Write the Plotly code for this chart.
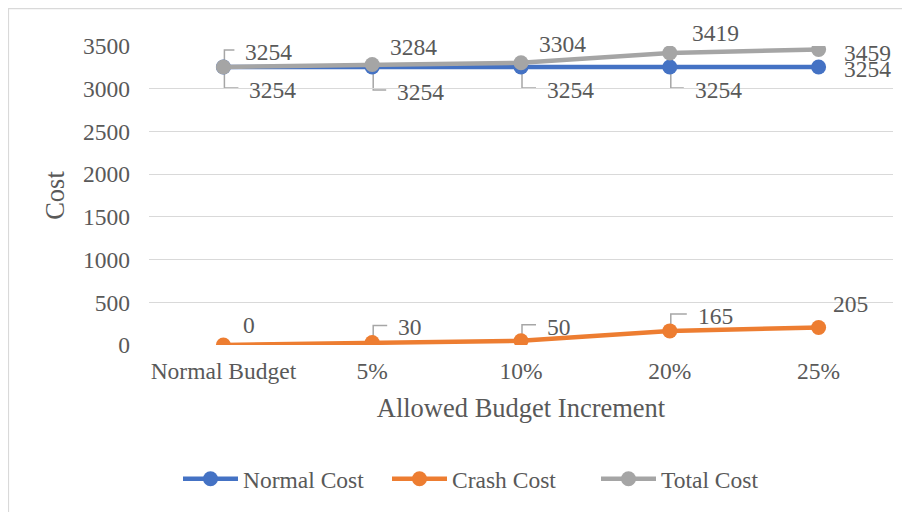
import plotly.graph_objects as go

# ---- data ----
categories = ["Normal Budget", "5%", "10%", "20%", "25%"]
normal_cost = [3254, 3254, 3254, 3254, 3254]
crash_cost = [0, 30, 50, 165, 205]
total_cost = [3254, 3284, 3304, 3419, 3459]
y_ticks = [0, 500, 1000, 1500, 2000, 2500, 3000, 3500]

# ---- styling / label placement (screen px, dy positive = down) ----
FONT = "Liberation Serif, Times New Roman, serif"
TXT = "#595959"
GRID = "#D9D9D9"
LEAD = "#A6A6A6"
colors = {"Normal Cost": "#4472C4", "Crash Cost": "#ED7D31", "Total Cost": "#A5A5A5"}

normal_lab = [(24, 23, True), (23, 25, True), (24, 23, True), (23, 23, True), (23, 2, False)]
crash_lab = [(18, -20, False), (24, -15, True), (24, -14, True), (26, -15, True), (12, -23, False)]
total_lab = [(20, -15, True), (16, -17, False), (16, -19, False), (20, -20, True), (23, 3, False)]

# page body has an 8px margin, so the figure itself is 902x504
W, H = 902, 504
ML, MT = 141, 38
PW, PH = 744, 300
MR, MB = W - ML - PW, H - MT - PH

fig = go.Figure()
for name, vals in [("Normal Cost", normal_cost), ("Crash Cost", crash_cost), ("Total Cost", total_cost)]:
    fig.add_trace(go.Scatter(
        x=categories, y=vals, name=name, mode="lines+markers",
        line=dict(color=colors[name], width=4.5),
        marker=dict(color=colors[name], size=15),
    ))

annotations = []
shapes = []
for vals, labs in [(normal_cost, normal_lab), (crash_cost, crash_lab), (total_cost, total_lab)]:
    for c, v, (dx, dy, lead) in zip(categories, vals, labs):
        annotations.append(dict(
            x=c, y=v, xref="x", yref="y", text=str(v), showarrow=False,
            xanchor="left", yanchor="middle", xshift=dx, yshift=-dy,
            font=dict(family=FONT, size=23.5, color=TXT),
        ))
        if lead:
            ey = dy - 2
            hx = dx - 9
            shapes.append(dict(
                type="path", xref="x", yref="y", xsizemode="pixel", ysizemode="pixel",
                xanchor=c, yanchor=v, layer="below",
                path=f"M 1,0 L 1,{-ey} L {hx},{-ey}",
                line=dict(color=LEAD, width=1.5),
            ))

# outer chart border (left/top visible, right/bottom run off the page)
shapes.append(dict(
    type="rect", xref="paper", yref="paper", layer="below",
    x0=(0.5 - ML) / PW, x1=(W + 10 - ML) / PW,
    y0=(MT + PH - (H + 10)) / PH, y1=(MT + PH - 0.5) / PH,
    line=dict(color=GRID, width=1.2), fillcolor="rgba(0,0,0,0)",
))

fig.update_layout(
    width=W, height=H,
    margin=dict(l=ML, r=MR, t=MT, b=MB),
    paper_bgcolor="white", plot_bgcolor="white",
    font=dict(family=FONT, color=TXT, size=23.5),
    showlegend=True,
    legend=dict(
        orientation="h", x=(170 - ML) / PW, xanchor="left",
        y=(MT + PH - 471) / PH, yanchor="middle",
        font=dict(family=FONT, size=23.5, color=TXT),
        itemwidth=55, entrywidth=139, entrywidthmode="pixels",
        bgcolor="rgba(0,0,0,0)",
    ),
    annotations=annotations,
    shapes=shapes,
    xaxis=dict(
        type="category", range=[-0.5, 4.5], showgrid=False, showline=False,
        zeroline=False, ticks="", ticklabelstandoff=9,
        tickfont=dict(family=FONT, size=23.5, color=TXT),
        title=dict(text="Allowed Budget Increment", standoff=15,
                   font=dict(family=FONT, size=26.5, color=TXT)),
    ),
    yaxis=dict(
        range=[0, 3500], tickvals=y_ticks, showgrid=True, gridcolor=GRID, gridwidth=1.2,
        zeroline=False, showline=False, ticks="", ticklabelstandoff=18,
        tickfont=dict(family=FONT, size=23.5, color=TXT),
        title=dict(text="Cost", standoff=10,
                   font=dict(family=FONT, size=26.5, color=TXT)),
    ),
)

fig.write_html("out.html")
